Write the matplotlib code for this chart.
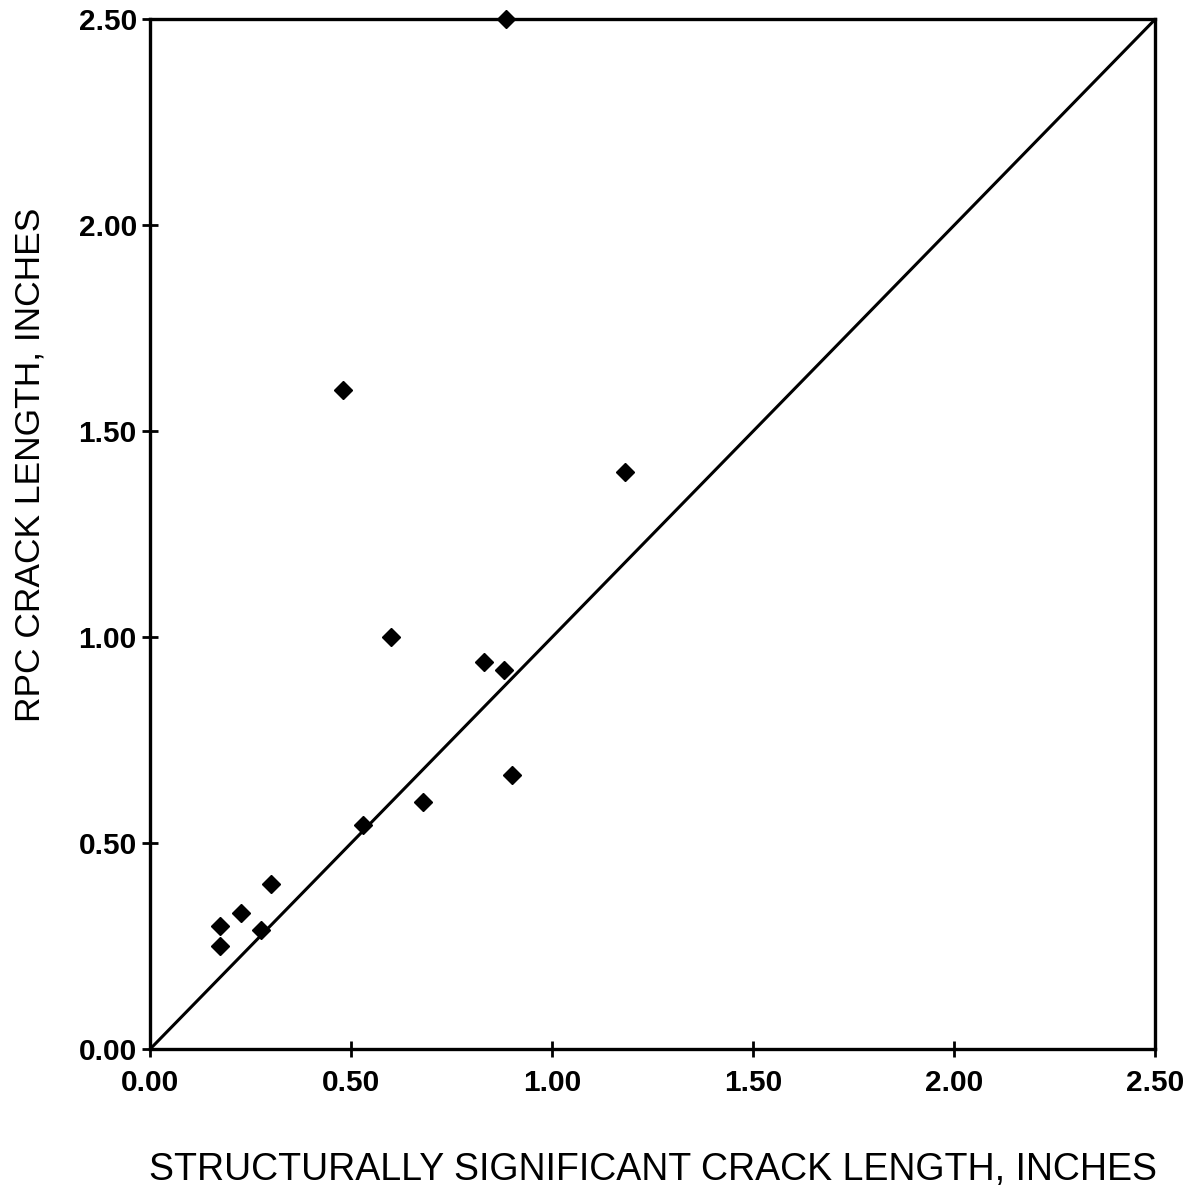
import numpy as np
import matplotlib.pyplot as plt

# structurally significant crack length vs RPC crack length (inches)
ssc_len = [0.175, 0.175, 0.225, 0.275, 0.30, 0.48, 0.53, 0.60, 0.68, 0.83, 0.88, 0.90, 1.18, 0.885]
rpc_len = [0.30, 0.25, 0.33, 0.29, 0.40, 1.60, 0.545, 1.00, 0.60, 0.94, 0.92, 0.665, 1.40, 2.50]

ticks = [0.0, 0.5, 1.0, 1.5, 2.0, 2.5]
tick_labels = ['0.00', '0.50', '1.00', '1.50', '2.00', '2.50']

plt.rcParams['font.family'] = ['Liberation Sans', 'DejaVu Sans']

fig = plt.figure(figsize=(11.91, 11.99), dpi=100)
ax = fig.add_axes([0.126, 0.125, 0.844, 0.859])

# one-to-one line
ax.plot([0, 2.5], [0, 2.5], color='black', lw=2.2, zorder=2)
ax.plot(ssc_len, rpc_len, linestyle='none', marker='D', markersize=9,
        color='black', zorder=3, clip_on=False)

ax.set_xlim(0, 2.5)
ax.set_ylim(0, 2.5)
ax.set_xticks(ticks)
ax.set_yticks(ticks)
ax.set_xticklabels(tick_labels, fontsize=21.5, fontweight='bold')
ax.set_yticklabels(tick_labels, fontsize=21.5, fontweight='bold')
ax.tick_params(direction='inout', length=11, width=2, pad=4)
ax.tick_params(axis='x', pad=9)
for s in ax.spines.values():
    s.set_linewidth(2.4)

fig.text(0.548, 0.024, 'STRUCTURALLY SIGNIFICANT CRACK LENGTH, INCHES',
         ha='center', va='center', fontsize=27)
fig.text(0.025, 0.612, 'RPC CRACK LENGTH, INCHES', rotation=90,
         ha='center', va='center', fontsize=25.5)

fig.savefig('out.png', dpi=100, facecolor='white')
